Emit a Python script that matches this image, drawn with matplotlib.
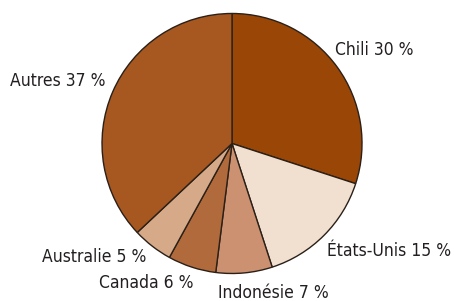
import matplotlib
matplotlib.use("Agg")
import matplotlib.pyplot as plt

labels = ["Chili", "États-Unis", "Indonésie", "Canada", "Australie", "Autres"]
values = [30, 15, 7, 6, 5, 37]
colors = ["#9a4607", "#f1e0d0", "#cc9170", "#b16a3b", "#d6aa88", "#a75720"]

# label anchors in pie units (radius = 1) and alignment
label_pos = [(0.79, 0.72, "left"), (0.73, -0.83, "left"), (0.32, -1.15, "center"),
             (-0.66, -1.07, "center"), (-0.66, -0.87, "right"), (-0.97, 0.48, "right")]

plt.rcParams['font.family'] = ['DejaVu Sans']
plt.rcParams['font.stretch'] = 'condensed'

fig = plt.figure(figsize=(4.54, 3.01), dpi=100)
ax = fig.add_axes([0.2247, 0.0914, 0.5727, 0.8638])
ax.pie(values, colors=colors, startangle=90, counterclock=False, radius=1,
       wedgeprops=dict(edgecolor="#2b2018", linewidth=1.0))
for name, v, (x, y, ha) in zip(labels, values, label_pos):
    ax.text(x, y, f"{name} {v} %", ha=ha, va="center", fontsize=12.5,
            fontstretch="condensed", color="#231f20")
ax.set_xlim(-1, 1)
ax.set_ylim(-1, 1)
ax.set_aspect("auto")
fig.savefig("out.png", dpi=100)
